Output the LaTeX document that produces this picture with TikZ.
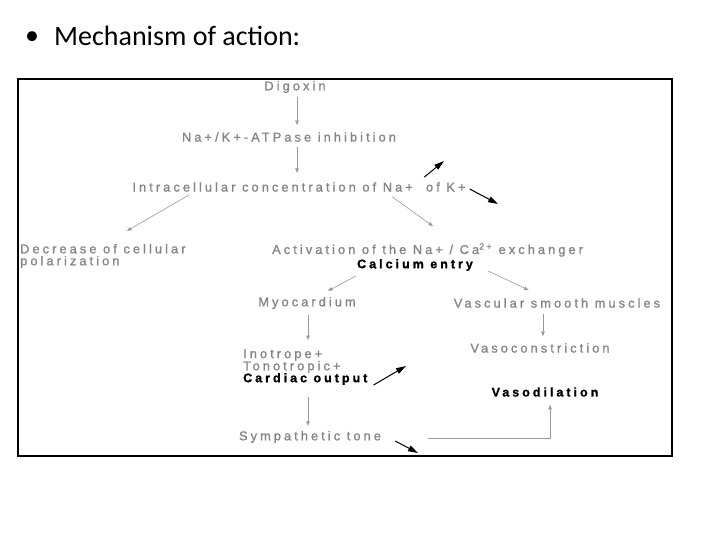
\documentclass[tikz,border=0pt]{standalone}
\usepackage{fontspec}
\newfontfamily\titlefont{Carlito}
\newfontfamily\diagfont[LetterSpace=24, FakeBold=1.2]{Liberation Sans}
\usetikzlibrary{arrows.meta, positioning, calc}
\definecolor{fadegray}{gray}{0.52}
\definecolor{linegray}{gray}{0.6}
\tikzset{
	txt/.style={inner sep=0pt, font=\diagfont\fontsize{12.8}{12}\selectfont, text=fadegray},
	boldtxt/.style={inner sep=0pt, font=\diagfont\bfseries\fontsize{12.5}{12}\selectfont, text=black},
	flow/.style={draw=linegray, line width=0.6pt, -{Triangle[length=4.5pt, width=3.5pt]}},
	trend/.style={draw=black, line width=1pt, -{Triangle[length=10pt, width=6pt]}}
}

\begin{document}
\begin{tikzpicture}[x=1pt, y=-1pt]
		\useasboundingbox (0,0) rectangle (720,540);

		% Title
		\node (bullet) at (32,38) [font=\titlefont\fontsize{28}{30}\selectfont] {•};
		\node (title) at (54,46) [anchor=base west, inner sep=0pt, font=\titlefont\fontsize{28}{30}\selectfont] {Mechanism of action:};

		\node (frame) at (345,267.5) [draw, line width=1.2pt, rectangle, minimum width=654pt, minimum height=377pt] {};

		% Upper chain
		\begin{scope}
			\node (digox) at (295,87) [txt] {Digoxin};
			\node (atpase) at (289,137) [txt] {Na+/K+-ATPase inhibition};
			\node (intra) at (299,187) [txt] {Intracellular concentration of Na+ \ of K+};
			\node (decr) at (20,256) [txt, anchor=west, align=left] {Decrease of cellular\\polarization};
			\node (activ) at (272,250) [txt, anchor=west] {Activation of the Na+ / Ca\textsuperscript{2+} exchanger};
			\node (calc) at (415,265) [boldtxt] {Calcium entry};
		\end{scope}

		% Myocardium
		\begin{scope}
			\node (myo) at (307,303) [txt] {Myocardium};
			\node (inotr) at (243,355) [txt, anchor=west] {Inotrope+};
			\node (tonot) at (243,367) [txt, anchor=west] {Tonotropic+};
			\node (cardo) at (243,379) [boldtxt, anchor=west] {Cardiac output};
			\node (symp) at (310,437) [txt] {Sympathetic tone};
		\end{scope}

		% Vessels
		\begin{scope}
			\node (vasc) at (557,303) [txt] {Vascular smooth muscles};
			\node (vcon) at (540,348) [txt] {Vasoconstriction};
			\node (vdil) at (545,392) [boldtxt] {Vasodilation};
		\end{scope}

		% Arrows
		\draw[flow] ($(digox.south)+(2,4)$) -- ($(atpase.north)+(8,-7)$);
		\draw[flow] ($(atpase.south)+(8,5)$) -- ($(atpase.south)+(8,31)$);
		\draw[flow] ($(intra.south west)+(57,3)$) -- ($(decr.north west)+(107,-13)$);
		\draw[flow] ($(intra.south west)+(260,5)$) -- ($(activ.north west)+(161,-17)$);
		\draw[flow] ($(calc.south west)+(-1,5)$) -- ($(myo.north)+(21,-6)$);
		\draw[flow] ($(calc.south east)+(15,0)$) -- ($(vasc.north west)+(75,-8)$);
		\draw[flow] ($(myo.south)+(1,6)$) -- ($(inotr.north west)+(65,-9)$);
		\draw[flow] ($(vasc.south)+(-14,6)$) -- ($(vcon.north)+(3,-7)$);
		\draw[flow] ($(cardo.south west)+(65,12)$) -- ($(symp.north)+(-2,-5)$);
		\draw[flow] ($(symp.east)+(47,1)$) -| ($(vdil.south)+(5,8)$);

		% Up and down
		\coordinate (naup) at (444,161);
		\coordinate (kdown) at (498,204);
		\coordinate (coup) at (406,366);
		\coordinate (sydown) at (418,453);
		\draw[trend] ($(intra.north west)+(292,-5)$) -- (naup);
		\draw[trend] ($(intra.east)+(4,2)$) -- (kdown);
		\draw[trend] ($(cardo.east)+(6,6)$) -- (coup);
		\draw[trend] ($(symp.east)+(14,4)$) -- (sydown);

	\end{tikzpicture}
\end{document}
